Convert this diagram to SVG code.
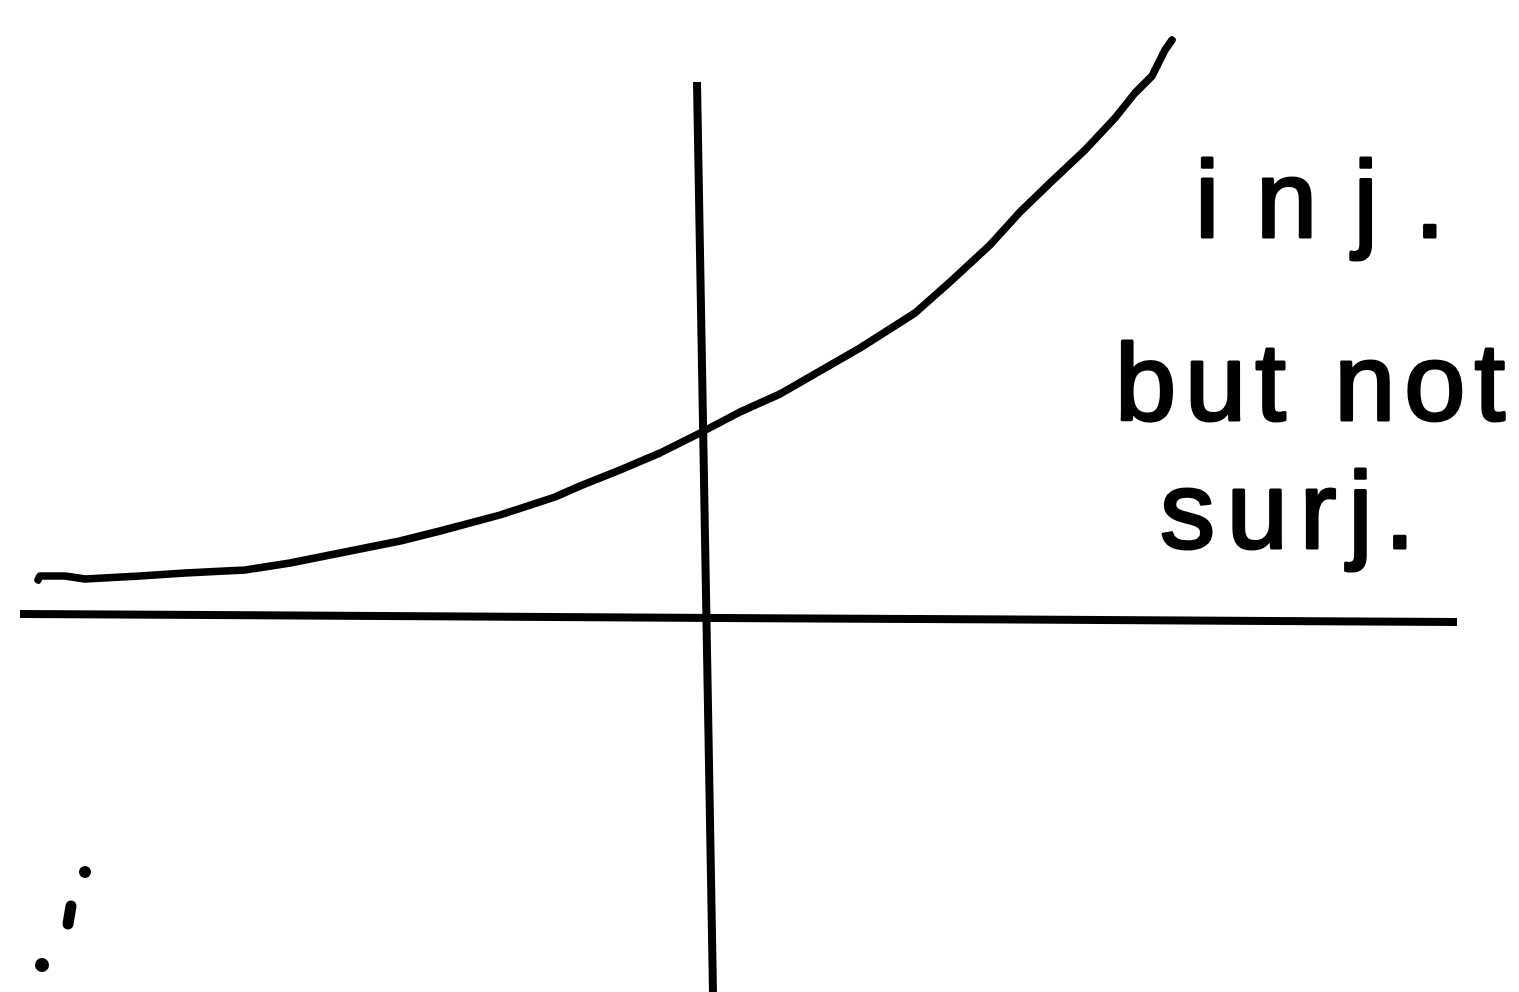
<svg xmlns="http://www.w3.org/2000/svg" width="1519" height="992" viewBox="0 0 1519 992">
<style>
.ln{fill:none;stroke:#000;stroke-linecap:round;stroke-linejoin:round}
.hw{font-family:"Liberation Sans","DejaVu Sans",sans-serif;font-size:110px;fill:#000;stroke:#000;stroke-width:3;stroke-linejoin:round}
</style>
<rect width="1519" height="992" fill="#fff"/>
<g id="axes">
<line class="ln" x1="20" y1="614" x2="1457" y2="622" stroke-width="8" style="stroke-linecap:butt"/>
<line class="ln" x1="697" y1="82" x2="713" y2="992" stroke-width="8" style="stroke-linecap:butt"/>
</g>
<g id="curve">
<path class="ln" stroke-width="7.5" d="M38,580 L40,576 L65,576 L85,579 L140,576 L185,573 L245,570 L290,563 L340,553 L400,541 L440,531 L500,515 L555,497 L580,486 L620,470 L660,453 L700,433 L740,412 L780,394 L820,371 L860,348 L915,313 L950,282 L990,245 L1020,212 L1050,183 L1085,150 L1115,118 L1135,93 L1152,76 L1165,50 L1172,40"/>
</g>
<g id="label">
<text class="hw" x="1195" y="237" textLength="250" lengthAdjust="spacing">inj.</text>
<text class="hw" x="1115" y="420" textLength="390" lengthAdjust="spacing">but not</text>
<text class="hw" x="1160" y="548" textLength="255" lengthAdjust="spacing">surj.</text>
</g>
<g id="marks">
<circle cx="85" cy="872" r="6"/>
<line class="ln" x1="71" y1="906" x2="68" y2="924" stroke-width="11"/>
<circle cx="42" cy="965" r="7"/>
</g>
</svg>
